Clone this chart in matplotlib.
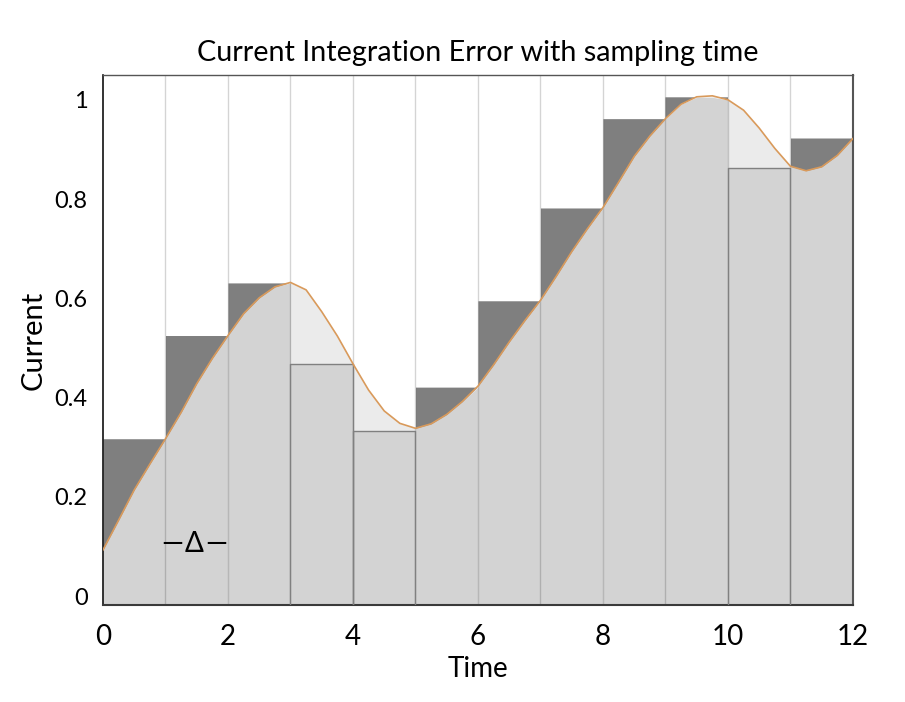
"""
error de integracion de corriente con tiempo de muestreo
"""
import numpy as np
import matplotlib
matplotlib.use('Agg')
import matplotlib.pyplot as plt

# Alturas de las barras (muestra tomada al final de cada intervalo)
bar_heights = [0.317, 0.525, 0.631, 0.467, 0.332, 0.421,
               0.595, 0.782, 0.962, 1.005, 0.862, 0.923]

# Curva de corriente, cada 0.25 de tiempo
curve_t = np.linspace(0, 12, 49)
curve_v = [0.093, 0.153, 0.214, 0.266, 0.317, 0.370, 0.428, 0.479,
           0.525, 0.569, 0.601, 0.623, 0.632, 0.617, 0.573, 0.524,
           0.468, 0.415, 0.373, 0.348, 0.338, 0.347, 0.366, 0.392,
           0.423, 0.466, 0.512, 0.555, 0.596, 0.644, 0.694, 0.740,
           0.783, 0.834, 0.886, 0.927, 0.962, 0.991, 1.006, 1.008,
           1.000, 0.979, 0.943, 0.902, 0.866, 0.857, 0.865, 0.888,
           0.922]

x_ticks = [0, 2, 4, 6, 8, 10, 12]
y_ticks = [0, 0.2, 0.4, 0.6, 0.8, 1]
y_labels = ['0', '0.2', '0.4', '0.6', '0.8', '1']

plt.rcParams['font.family'] = ['Lato', 'DejaVu Sans']

fig = plt.figure(figsize=(9.05, 7.02), dpi=100)
ax = fig.add_axes([0.1138, 0.1382, 0.8287, 0.755])

y_bottom = -0.018
curve_v = np.array(curve_v)

# Rellenos por cada intervalo de muestreo
for k, h in enumerate(bar_heights):
    t = curve_t[4 * k:4 * k + 5]
    v = curve_v[4 * k:4 * k + 5]
    bar = np.full_like(t, h)
    ax.fill_between(t, y_bottom, np.minimum(v, bar), color='#d3d3d3', lw=0, zorder=1)
    ax.fill_between(t, v, bar, where=bar >= v, interpolate=True,
                    color='#7f7f7f', lw=0, zorder=1)
    ax.fill_between(t, bar, v, where=v > bar, interpolate=True,
                    color='#ebebeb', lw=0, zorder=1)
    if v[1:-1].mean() > h:
        # barras por debajo de la curva con borde
        ax.plot([k, k, k + 1, k + 1], [y_bottom, h, h, y_bottom],
                color='#808080', lw=1.0, zorder=3)

# Lineas verticales en cada muestra
for k in range(1, 12):
    ax.axvline(k, color='black', alpha=0.17, lw=1.0, zorder=2)

# Curva de corriente
ax.plot(curve_t, curve_v, color='#d99a5b', lw=1.2, zorder=4)

# marca del intervalo de muestreo
ax.text(1.46, 0.104, 'Δ', fontsize=20, ha='center', va='center', zorder=5)
ax.text(1.11, 0.104, '—', fontsize=20, ha='center', va='center', zorder=5)
ax.text(1.82, 0.104, '—', fontsize=20, ha='center', va='center', zorder=5)

ax.set_xlim(0, 12)
ax.set_ylim(y_bottom, 1.05)
ax.set_xticks(x_ticks)
ax.set_yticks(y_ticks)
ax.set_yticklabels(y_labels)
ax.tick_params(axis='x', length=0, pad=14, labelsize=20)
ax.tick_params(axis='y', length=0, pad=11, labelsize=17)

ax.spines['left'].set_color('#111111')
ax.spines['left'].set_linewidth(1.2)
ax.spines['bottom'].set_color('#3a3a3a')
ax.spines['bottom'].set_linewidth(1.5)
ax.spines['top'].set_color('#555555')
ax.spines['top'].set_linewidth(1.0)
ax.spines['right'].set_color('#555555')
ax.spines['right'].set_linewidth(1.5)

ax.set_title('Current Integration Error with sampling time', fontsize=20.7, pad=10)
ax.set_xlabel('Time', fontsize=20, labelpad=4)
ax.set_ylabel('Current', fontsize=21, labelpad=6)

plt.savefig('out.png', dpi=100)
